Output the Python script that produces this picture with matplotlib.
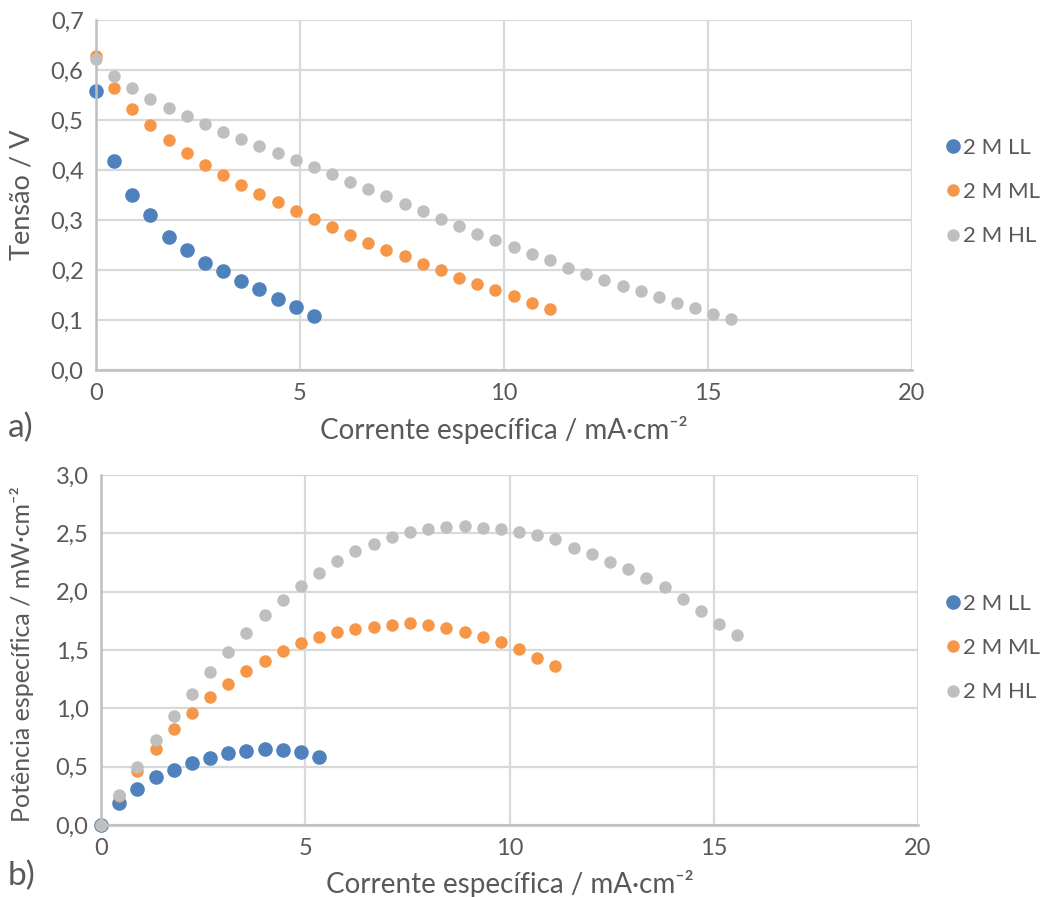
import matplotlib
matplotlib.use("Agg")
import matplotlib.pyplot as plt
from matplotlib.ticker import FuncFormatter, MultipleLocator

# Current density step between measurement points (mA/cm2)
step = 0.445

# Polarisation curves: cell voltage (V)
v_ll = [0.558, 0.417, 0.350, 0.310, 0.265, 0.240, 0.215, 0.197, 0.179, 0.163,
        0.143, 0.127, 0.109]
v_ml = [0.628, 0.563, 0.522, 0.489, 0.460, 0.433, 0.410, 0.389, 0.370, 0.352,
        0.335, 0.318, 0.302, 0.285, 0.269, 0.253, 0.240, 0.228, 0.213, 0.199,
        0.185, 0.172, 0.160, 0.148, 0.135, 0.123]
v_hl = [0.621, 0.587, 0.563, 0.541, 0.523, 0.507, 0.491, 0.476, 0.462, 0.448,
        0.433, 0.419, 0.405, 0.391, 0.376, 0.361, 0.347, 0.332, 0.317, 0.302,
        0.287, 0.272, 0.259, 0.245, 0.232, 0.220, 0.205, 0.193, 0.180, 0.169,
        0.158, 0.147, 0.135, 0.125, 0.113, 0.103]

# Power density curves (mW/cm2)
p_ll = [0.0, 0.186, 0.309, 0.411, 0.471, 0.534, 0.577, 0.614, 0.637, 0.651,
        0.643, 0.626, 0.580]
p_ml = [0.0, 0.250, 0.463, 0.651, 0.820, 0.963, 1.094, 1.211, 1.317, 1.408,
        1.491, 1.560, 1.611, 1.657, 1.680, 1.697, 1.711, 1.729, 1.714, 1.686,
        1.654, 1.614, 1.566, 1.509, 1.434, 1.366]
p_hl = [0.0, 0.257, 0.497, 0.726, 0.931, 1.126, 1.311, 1.483, 1.643, 1.797,
        1.929, 2.051, 2.160, 2.260, 2.346, 2.411, 2.466, 2.511, 2.540, 2.554,
        2.560, 2.546, 2.537, 2.511, 2.483, 2.454, 2.374, 2.323, 2.257, 2.191,
        2.120, 2.040, 1.934, 1.834, 1.726, 1.626]

labels = ["2 M LL", "2 M ML", "2 M HL"]
colors = ["#4F81BD", "#F79646", "#BFBFBF"]
sizes = [10.5, 9.0, 9.0]

TXT = "#595959"
GRID = "#D9D9D9"
AXIS = "#BFBFBF"

plt.rcParams["font.family"] = ["Lato", "DejaVu Sans"]

W, H = 1041, 897
fig = plt.figure(figsize=(W / 100, H / 100), dpi=100)

XLABEL = "Corrente específica / mA·cm⁻²"


def style(ax, ymax, ystep):
    ax.set_xlim(0, 20)
    ax.set_ylim(0, ymax)
    ax.xaxis.set_major_locator(MultipleLocator(5))
    ax.yaxis.set_major_locator(MultipleLocator(ystep))
    ax.xaxis.set_major_formatter(FuncFormatter(lambda x, p: f"{x:.0f}"))
    ax.yaxis.set_major_formatter(
        FuncFormatter(lambda x, p: f"{x:.1f}".replace(".", ",")))
    ax.grid(True, color=GRID, linewidth=1.6)
    ax.set_axisbelow(True)
    for s in ["top", "right"]:
        ax.spines[s].set_visible(False)
    for s in ["left", "bottom"]:
        ax.spines[s].set_color(AXIS)
        ax.spines[s].set_linewidth(1.8)
    ax.tick_params(length=0, labelsize=17, colors=TXT)
    ax.tick_params(axis="y", pad=9)
    ax.tick_params(axis="x", pad=9)


def scatter(ax, series):
    handles = []
    for vals, lab, c, ms in zip(series, labels, colors, sizes):
        xs = [i * step for i in range(len(vals))]
        h, = ax.plot(xs, vals, "o", color=c, markersize=ms, markeredgewidth=0,
                     label=lab, clip_on=False)
        handles.append(h)
    return handles


def legend(ax, handles, left, width, bottom, height, ycenter):
    ax.legend(handles=handles, loc="center left",
              bbox_to_anchor=((947 - left) / width, (bottom - ycenter) / height),
              frameon=False, fontsize=16, labelcolor=TXT, handlelength=0.5,
              handletextpad=0.2, labelspacing=1.1, borderaxespad=0,
              borderpad=0)


# a) voltage vs current density
l1, b1, w1, h1_ = 96, 370, 816, 350
ax1 = fig.add_axes([l1 / W, 1 - b1 / H, w1 / W, h1_ / H])
style(ax1, 0.7, 0.1)
hs1 = scatter(ax1, [v_ll, v_ml, v_hl])
ax1.set_ylabel("Tensão / V", fontsize=19.5, color=TXT, va="center")
ax1.yaxis.set_label_coords((22 - l1) / w1, 0.5)
ax1.set_xlabel(XLABEL, fontsize=20, color=TXT, va="center")
ax1.xaxis.set_label_coords(0.5, (b1 - 430) / h1_)
legend(ax1, hs1, l1, w1, b1, h1_, 192)

# b) power density vs current density
l2, b2, w2, h2_ = 101, 825, 817, 350
ax2 = fig.add_axes([l2 / W, 1 - b2 / H, w2 / W, h2_ / H])
style(ax2, 3.0, 0.5)
hs2 = scatter(ax2, [p_ll, p_ml, p_hl])
ax2.set_ylabel("Potência específica / mW·cm⁻²", fontsize=18, color=TXT,
               va="center")
ax2.yaxis.set_label_coords((22 - l2) / w2, (b2 - 654) / h2_)
ax2.set_xlabel(XLABEL, fontsize=20, color=TXT, va="center")
ax2.xaxis.set_label_coords(0.5, (b2 - 884) / h2_)
legend(ax2, hs2, l2, w2, b2, h2_, 648)

fig.text(8 / W, 1 - 428 / H, "a)", fontsize=24, color=TXT, va="center")
fig.text(8 / W, 1 - 876 / H, "b)", fontsize=24, color=TXT, va="center")

fig.savefig("out.png", dpi=100, facecolor="white")
